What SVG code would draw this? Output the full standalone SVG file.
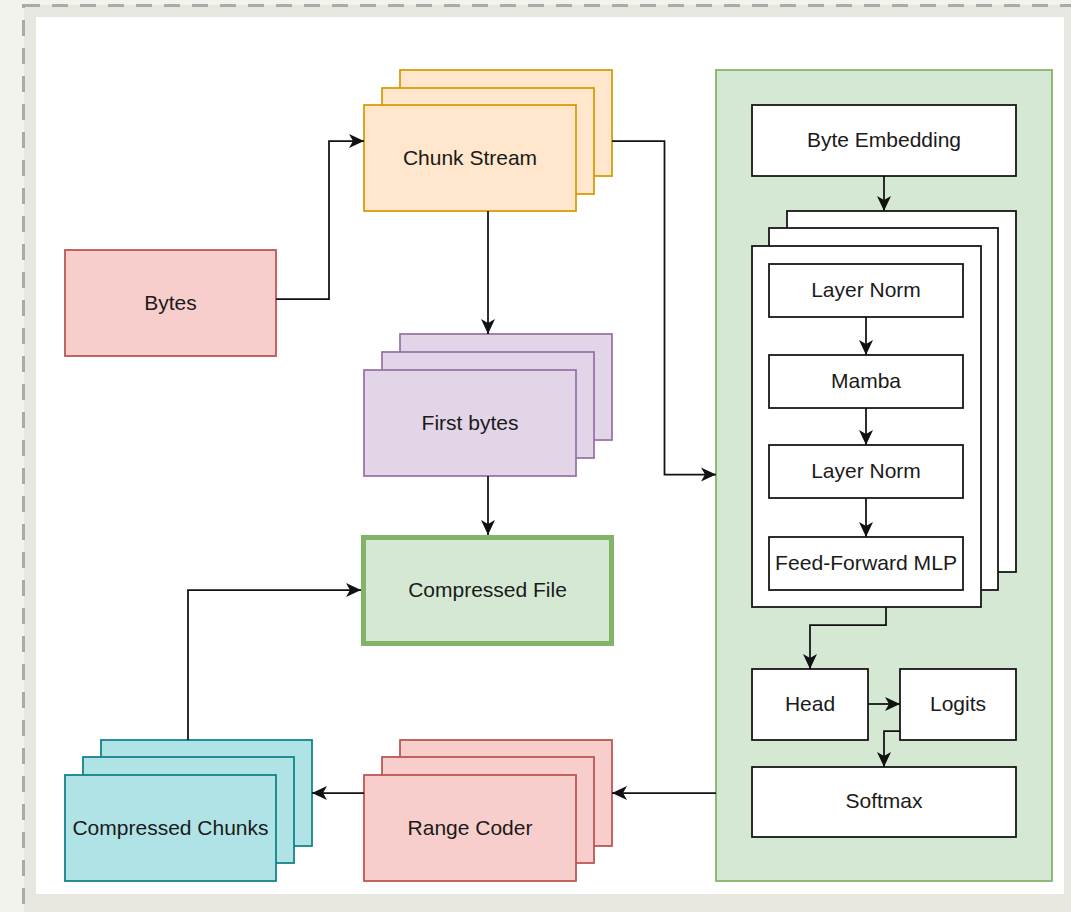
<svg xmlns="http://www.w3.org/2000/svg" width="1071" height="912" viewBox="0 0 1071 912">
<style>
.t{font-family:"Liberation Sans",Arial,Helvetica,sans-serif;font-size:21px;fill:#1a1a1a;text-anchor:middle}
.c{fill:none;stroke:#111;stroke-width:1.75}
.w{fill:#ffffff;stroke:#111;stroke-width:1.75}
.orange{fill:#ffe6cc;stroke:#d79b00;stroke-width:1.75}
.purple{fill:#e1d5e7;stroke:#9673a6;stroke-width:1.75}
.red{fill:#f8cecc;stroke:#b85450;stroke-width:1.75}
.teal{fill:#b0e3e6;stroke:#0e8088;stroke-width:1.75}
.green{fill:#d5e8d4;stroke:#82b366;stroke-width:1.75}
</style>
<defs>
<marker id="arr" viewBox="-16 -8 17 16" markerWidth="17" markerHeight="16" refX="0" refY="0" orient="auto" markerUnits="userSpaceOnUse">
<path d="M0,0 L-15,-7 L-11,0 L-15,7 Z" fill="#111"/>
</marker>
</defs>
<g id="frame">
<rect x="0" y="0" width="1071" height="912" fill="#f3f3ee"/>
<rect x="24" y="5" width="1047" height="907" fill="#e7e7e0"/>
<rect x="36" y="17" width="1028" height="877" fill="#ffffff"/>
<line x1="24" y1="5.5" x2="1071" y2="5.5" stroke="#aaaaaa" stroke-width="3" stroke-dasharray="16 12"/>
<line x1="23.5" y1="20" x2="23.5" y2="912" stroke="#aaaaaa" stroke-width="3" stroke-dasharray="16 12"/>
<rect x="22" y="4" width="3" height="4" fill="#aaaaaa"/>
</g>
<g id="model-container">
<rect class="green" x="716" y="70" width="336" height="811"/>
</g>
<g id="bytes">
<rect class="red" x="65" y="250" width="211" height="106"/>
<text class="t" x="170.5" y="310">Bytes</text>
</g>
<g id="chunk-stream">
<rect class="orange" x="400" y="70" width="212" height="106"/>
<rect class="orange" x="382" y="88" width="212" height="106"/>
<rect class="orange" x="364" y="105" width="212" height="106"/>
<text class="t" x="470" y="165">Chunk Stream</text>
</g>
<g id="first-bytes">
<rect class="purple" x="400" y="334" width="212" height="106"/>
<rect class="purple" x="382" y="352" width="212" height="106"/>
<rect class="purple" x="364" y="370" width="212" height="106"/>
<text class="t" x="470" y="430">First bytes</text>
</g>
<g id="compressed-file">
<rect x="363.5" y="537.5" width="248" height="106" fill="#d5e8d4" stroke="#82b366" stroke-width="5"/>
<text class="t" x="487.5" y="597">Compressed File</text>
</g>
<g id="compressed-chunks">
<rect class="teal" x="101" y="740" width="211" height="106"/>
<rect class="teal" x="83" y="757" width="211" height="106"/>
<rect class="teal" x="65" y="775" width="211" height="106"/>
<text class="t" x="170.5" y="835">Compressed Chunks</text>
</g>
<g id="range-coder">
<rect class="red" x="400" y="740" width="212" height="106"/>
<rect class="red" x="382" y="757" width="212" height="106"/>
<rect class="red" x="364" y="775" width="212" height="106"/>
<text class="t" x="470" y="835">Range Coder</text>
</g>
<g id="byte-embedding">
<rect class="w" x="752" y="105" width="264" height="71"/>
<text class="t" x="884" y="147">Byte Embedding</text>
</g>
<g id="mamba-block-stack">
<rect class="w" x="787" y="211" width="229" height="361"/>
<rect class="w" x="769" y="228" width="229" height="362"/>
<rect class="w" x="752" y="246" width="229" height="361"/>
</g>
<g id="layer-norm-1">
<rect class="w" x="769" y="264" width="194" height="53"/>
<text class="t" x="866" y="297">Layer Norm</text>
</g>
<g id="mamba">
<rect class="w" x="769" y="355" width="194" height="53"/>
<text class="t" x="866" y="388">Mamba</text>
</g>
<g id="layer-norm-2">
<rect class="w" x="769" y="445" width="194" height="53"/>
<text class="t" x="866" y="478">Layer Norm</text>
</g>
<g id="feed-forward-mlp">
<rect class="w" x="769" y="537" width="194" height="53"/>
<text class="t" x="866" y="570" textLength="182" lengthAdjust="spacingAndGlyphs">Feed-Forward MLP</text>
</g>
<g id="head">
<rect class="w" x="752" y="669" width="116" height="71"/>
<text class="t" x="810" y="711">Head</text>
</g>
<g id="logits">
<rect class="w" x="900" y="669" width="116" height="71"/>
<text class="t" x="958" y="711">Logits</text>
</g>
<g id="softmax">
<rect class="w" x="752" y="767" width="264" height="70"/>
<text class="t" x="884" y="808">Softmax</text>
</g>
<g id="connectors">
<path class="c" d="M276,299 H329 V141 H364" marker-end="url(#arr)"/>
<path class="c" d="M612,141 H664.5 V474.5 H716" marker-end="url(#arr)"/>
<path class="c" d="M488,211 V334" marker-end="url(#arr)"/>
<path class="c" d="M488,476 V535" marker-end="url(#arr)"/>
<path class="c" d="M188,740 V590 H361" marker-end="url(#arr)"/>
<path class="c" d="M716,793 H612" marker-end="url(#arr)"/>
<path class="c" d="M364,793 H312" marker-end="url(#arr)"/>
<path class="c" d="M884,176 V211" marker-end="url(#arr)"/>
<path class="c" d="M866,317 V355" marker-end="url(#arr)"/>
<path class="c" d="M866,408 V445" marker-end="url(#arr)"/>
<path class="c" d="M866,498 V537" marker-end="url(#arr)"/>
<path class="c" d="M886,607 V625 H810 V669" marker-end="url(#arr)"/>
<path class="c" d="M868,704 H900" marker-end="url(#arr)"/>
<path class="c" d="M900,731 H884 V767" marker-end="url(#arr)"/>
</g>
</svg>
